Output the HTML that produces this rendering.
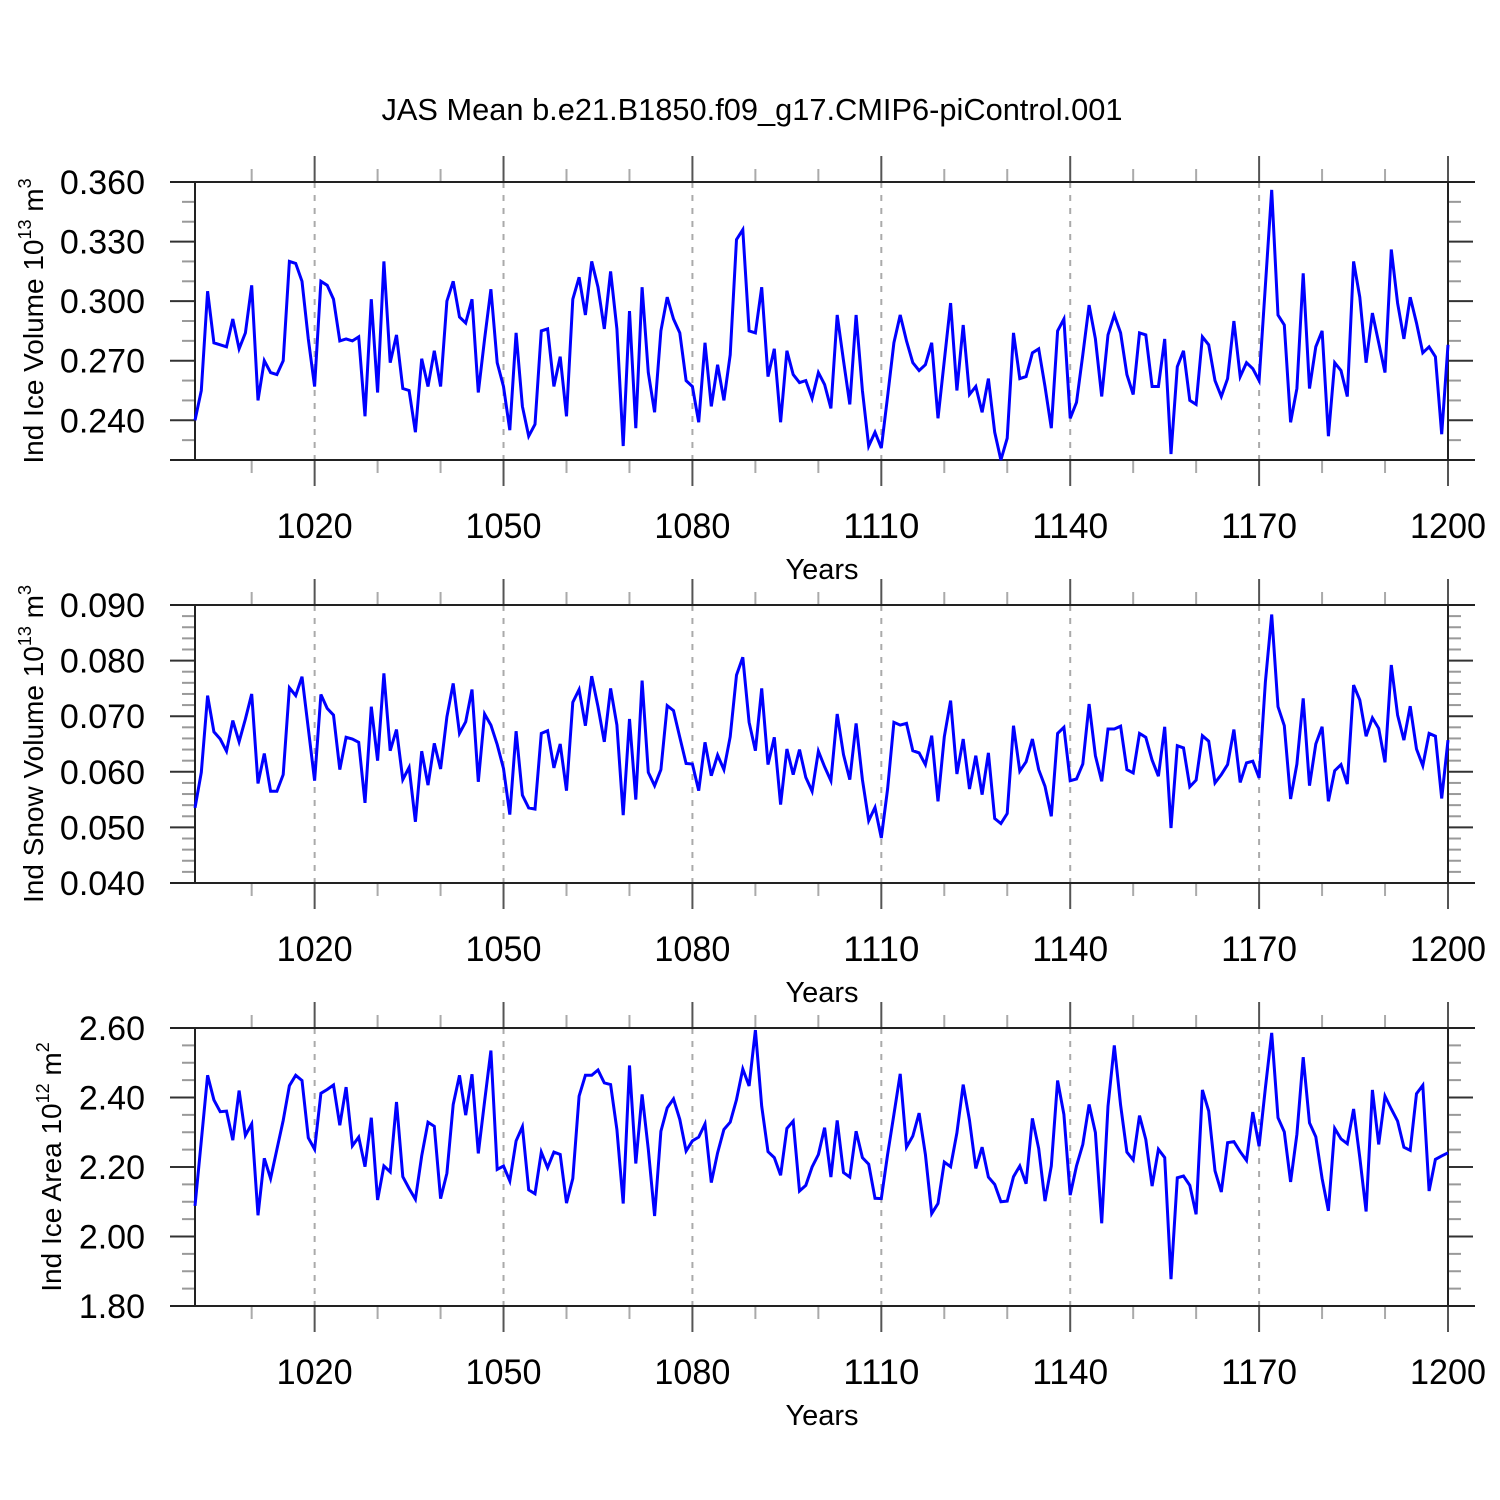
<!DOCTYPE html>
<html><head><meta charset="utf-8"><style>
html,body{margin:0;padding:0;background:#fff;}
svg{display:block;font-family:"Liberation Sans",sans-serif;}
</style></head><body>
<svg id="chart" width="1500" height="1500" viewBox="0 0 1500 1500" xmlns="http://www.w3.org/2000/svg">
<rect width="1500" height="1500" fill="#fff"/>
<text x="752" y="120" font-size="30.5" text-anchor="middle" textLength="741" lengthAdjust="spacingAndGlyphs" fill="#000">JAS Mean b.e21.B1850.f09_g17.CMIP6-piControl.001</text>
</svg>
<script>
const years = [];
for (let y = 1001; y <= 1200; y++) years.push(y);
const xTickYears = [1020, 1050, 1080, 1110, 1140, 1170, 1200];
const xTickLabels = ["1020", "1050", "1080", "1110", "1140", "1170", "1200"];

const iceVolume = [0.240,0.255,0.305,0.279,0.278,0.277,0.291,0.276,0.284,0.308,0.250,0.270,0.264,0.263,0.270,0.320,0.319,0.310,0.281,0.257,0.310,0.308,0.301,0.280,0.281,0.280,0.282,0.242,0.301,0.254,0.320,0.269,0.283,0.256,0.255,0.234,0.271,0.257,0.275,0.257,0.300,0.310,0.292,0.289,0.301,0.254,0.281,0.306,0.269,0.257,0.235,0.284,0.247,0.232,0.238,0.285,0.286,0.257,0.272,0.242,0.301,0.312,0.293,0.320,0.307,
0.286,0.315,0.286,0.227,0.295,0.236,0.307,0.264,0.244,0.285,0.302,0.291,0.284,0.260,0.257,0.239,0.279,0.247,0.268,0.250,0.273,0.331,0.336,0.285,0.284,0.307,0.262,0.276,0.239,0.275,0.263,0.259,0.260,0.251,0.264,0.258,0.246,0.293,0.270,0.248,0.293,0.255,0.227,0.234,0.226,0.252,0.279,0.293,0.280,0.269,0.265,0.268,0.279,0.241,0.270,0.299,0.255,0.288,0.253,0.257,0.244,0.261,0.234,0.220,0.231,0.284,0.261,0.262,
0.274,0.276,0.257,0.236,0.285,0.291,0.241,0.249,0.273,0.298,0.281,0.252,0.283,0.293,0.284,0.263,0.253,0.284,0.283,0.257,0.257,0.281,0.223,0.267,0.275,0.250,0.248,0.282,0.278,0.260,0.252,0.261,0.290,0.262,0.269,0.266,0.260,0.308,0.356,0.293,0.288,0.239,0.256,0.314,0.256,0.277,0.285,0.232,0.269,0.265,0.252,0.320,0.302,0.269,0.294,0.279,0.264,0.326,0.299,0.281,0.302,0.289,0.274,0.277,0.272,0.233,0.278];

const snowVolume = [0.0535,0.0599,0.0737,0.0672,0.0659,0.0637,0.0692,0.0654,0.0695,0.0740,0.0579,0.0633,0.0565,0.0565,0.0595,0.0751,0.0737,0.0771,0.0678,0.0584,0.0739,0.0714,0.0702,0.0604,0.0662,0.0659,0.0653,0.0544,0.0717,0.0620,0.0777,0.0638,0.0676,0.0586,0.0608,0.0510,0.0637,0.0576,0.0651,0.0605,0.0699,0.0759,0.0669,0.0690,0.0748,0.0582,0.0704,0.0684,0.0649,0.0606,0.0523,0.0673,0.0558,0.0535,0.0533,0.0669,0.0674,0.0607,0.0650,0.0566,0.0725,0.0748,0.0683,0.0772,0.0717,
0.0654,0.0750,0.0684,0.0522,0.0695,0.0550,0.0764,0.0599,0.0575,0.0604,0.0719,0.0710,0.0662,0.0615,0.0614,0.0566,0.0653,0.0593,0.0630,0.0604,0.0663,0.0774,0.0806,0.0689,0.0638,0.0750,0.0613,0.0662,0.0541,0.0641,0.0595,0.0640,0.0590,0.0565,0.0637,0.0609,0.0584,0.0704,0.0631,0.0586,0.0687,0.0586,0.0512,0.0536,0.0481,0.0569,0.0689,0.0684,0.0687,0.0638,0.0634,0.0613,0.0665,0.0547,0.0663,0.0728,0.0596,0.0659,0.0569,0.0629,0.0559,0.0634,0.0516,0.0507,0.0525,0.0683,0.0601,0.0618,
0.0659,0.0604,0.0574,0.0520,0.0669,0.0680,0.0584,0.0587,0.0614,0.0722,0.0629,0.0583,0.0677,0.0677,0.0682,0.0604,0.0598,0.0669,0.0662,0.0621,0.0592,0.0681,0.0499,0.0647,0.0643,0.0573,0.0585,0.0665,0.0655,0.0580,0.0595,0.0613,0.0676,0.0581,0.0616,0.0619,0.0589,0.0762,0.0883,0.0717,0.0683,0.0551,0.0614,0.0732,0.0575,0.0650,0.0681,0.0547,0.0602,0.0613,0.0578,0.0756,0.0729,0.0664,0.0697,0.0678,0.0617,0.0792,0.0702,0.0657,0.0718,0.0641,0.0611,0.0669,0.0664,0.0552,0.0657];

const iceArea = [2.088,2.275,2.464,2.393,2.359,2.361,2.277,2.420,2.291,2.324,2.061,2.225,2.167,2.251,2.334,2.434,2.464,2.449,2.284,2.251,2.412,2.423,2.436,2.320,2.430,2.261,2.286,2.201,2.342,2.105,2.203,2.186,2.387,2.172,2.138,2.107,2.232,2.329,2.317,2.109,2.182,2.380,2.464,2.349,2.467,2.239,2.389,2.535,2.193,2.203,2.160,2.275,2.316,2.134,2.123,2.243,2.198,2.243,2.236,2.096,2.167,2.404,2.464,2.464,2.479,
2.442,2.437,2.308,2.095,2.492,2.210,2.409,2.251,2.059,2.303,2.370,2.396,2.337,2.246,2.275,2.286,2.324,2.155,2.241,2.308,2.329,2.394,2.482,2.433,2.594,2.375,2.244,2.227,2.176,2.311,2.332,2.131,2.147,2.200,2.236,2.313,2.171,2.334,2.184,2.171,2.303,2.227,2.208,2.110,2.109,2.236,2.351,2.468,2.257,2.289,2.355,2.236,2.066,2.095,2.214,2.201,2.298,2.437,2.334,2.196,2.257,2.171,2.150,2.100,2.102,2.172,2.203,2.152,
2.340,2.253,2.102,2.203,2.449,2.351,2.119,2.203,2.265,2.380,2.299,2.038,2.375,2.550,2.378,2.243,2.220,2.348,2.279,2.145,2.251,2.227,1.877,2.169,2.174,2.147,2.064,2.422,2.361,2.189,2.128,2.270,2.273,2.244,2.219,2.358,2.260,2.428,2.586,2.342,2.301,2.157,2.294,2.516,2.327,2.287,2.167,2.074,2.311,2.281,2.267,2.367,2.227,2.072,2.422,2.265,2.404,2.367,2.332,2.257,2.248,2.411,2.435,2.131,2.222,2.232,2.241];

const p1Ticks = [0.240, 0.270, 0.300, 0.330, 0.360];
const p1TickLabels = ["0.240", "0.270", "0.300", "0.330", "0.360"];
const p2Ticks = [0.040, 0.050, 0.060, 0.070, 0.080, 0.090];
const p2TickLabels = ["0.040", "0.050", "0.060", "0.070", "0.080", "0.090"];
const p3Ticks = [1.80, 2.00, 2.20, 2.40, 2.60];
const p3TickLabels = ["1.80", "2.00", "2.20", "2.40", "2.60"];

const NS = "http://www.w3.org/2000/svg";
const svg = document.getElementById("chart");
const X0 = 195, X1 = 1448, YR0 = 1001, YR1 = 1200;
function xScale(yr) { return X0 + (yr - YR0) * (X1 - X0) / (YR1 - YR0); }
function mk(tag, attrs, parent) {
  const e = document.createElementNS(NS, tag);
  for (const k in attrs) e.setAttribute(k, attrs[k]);
  (parent || svg).appendChild(e);
  return e;
}

function panel(cfg) {
  const g = mk("g", {});
  
  
  const top = cfg.top, bot = cfg.top + 278;
  function yScale(v) { return bot - (v - cfg.min) * (bot - top) / (cfg.max - cfg.min); }
  xTickYears.forEach(yr => {
    if (yr >= YR1) return;
    const l = mk("line", {x1: xScale(yr), x2: xScale(yr), y1: top, y2: bot, stroke: "#aaa", "stroke-width": 2, "stroke-dasharray": "6,7"}, g);
    
    
  });
  for (let yr = 1010; yr <= 1200; yr += 10) {
    const major = (yr - 1020) % 30 === 0;
    const len = major ? 26 : 13;
    const col = major ? "#555" : "#aaa";
    const x = xScale(yr);
    const t1 = mk("line", {x1: x, x2: x, y1: top, y2: top - len, stroke: col, "stroke-width": 2}, g);
    
    
    const t2 = mk("line", {x1: x, x2: x, y1: bot, y2: bot + len, stroke: col, "stroke-width": 2}, g);
    
    
  }
  const nMinor = Math.round((cfg.max - cfg.min) / cfg.minorStep);
  for (let i = 0; i <= nMinor; i++) {
    const v = cfg.min + i * cfg.minorStep;
    const y = yScale(v);
    const isMajor = cfg.ticks.some(t => Math.abs(t - v) < cfg.minorStep / 10);
    const len = isMajor ? 25 : 13;
    const col = isMajor ? "#333" : "#999";
    const a = mk("line", {x1: X0, x2: X0 - len, y1: y, y2: y, stroke: col, "stroke-width": 2}, g);
    
    
    const b = mk("line", {x1: X1, x2: X1 + len, y1: y, y2: y, stroke: col, "stroke-width": 2}, g);
    
    
  }
  const fr = [[170, top, 1475, top], [170, bot, 1475, bot], [X0, top, X0, bot], [X1, top, X1, bot]];
  fr.forEach(f => {
    const l = mk("line", {x1: f[0], y1: f[1], x2: f[2], y2: f[3], stroke: "#222", "stroke-width": 2}, g);
    
    
  });
  cfg.ticks.forEach((t, i) => {
    const tx = mk("text", {x: 145, y: yScale(t) + 12, "font-size": 34, "text-anchor": "end", fill: "#000"}, g);
    
    
    tx.textContent = cfg.tickLabels[i];
  });
  xTickYears.forEach((yr, i) => {
    const tx = mk("text", {x: xScale(yr), y: bot + 78, "font-size": 35, "text-anchor": "middle", textLength: 76, lengthAdjust: "spacingAndGlyphs", fill: "#000"}, g);
    
    
    tx.textContent = xTickLabels[i];
  });
  const xt = mk("text", {x: 822, y: bot + 119, "font-size": 29, "text-anchor": "middle", fill: "#000"}, g);
  
  
  xt.textContent = "Years";
  const yc = (top + bot) / 2 + cfg.titleShift;
  const yt = mk("text", {x: 0, y: 0, "font-size": 28, "text-anchor": "middle", fill: "#000", transform: "translate(" + cfg.titleX + "," + yc + ") rotate(-90)"}, g);
  
  
  const s1 = mk("tspan", {}, yt); s1.textContent = cfg.title + " 10";
  const s2 = mk("tspan", {dy: -12, "font-size": 18}, yt); s2.textContent = cfg.exp;
  const s3 = mk("tspan", {dy: 12}, yt); s3.textContent = " m";
  const s4 = mk("tspan", {dy: -12, "font-size": 18}, yt); s4.textContent = cfg.unitExp;
  const pts = cfg.data.map((v, i) => xScale(years[i]).toFixed(1) + "," + yScale(v).toFixed(1)).join(" ");
  const pl = mk("polyline", {points: pts, fill: "none", stroke: "#0000ff", "stroke-width": 3, "stroke-linejoin": "miter"}, g);
  
  
}

panel({name: "ice-volume-panel", top: 182, min: 0.22, max: 0.36, minorStep: 0.01, ticks: p1Ticks, tickLabels: p1TickLabels, data: iceVolume, title: "Ind Ice Volume", exp: "13", unitExp: "3", titleX: 43, titleShift: 0});
panel({name: "snow-volume-panel", top: 605, min: 0.04, max: 0.09, minorStep: 0.002, ticks: p2Ticks, tickLabels: p2TickLabels, data: snowVolume, title: "Ind Snow Volume", exp: "13", unitExp: "3", titleX: 43, titleShift: 0});
panel({name: "ice-area-panel", top: 1028, min: 1.80, max: 2.60, minorStep: 0.05, ticks: p3Ticks, tickLabels: p3TickLabels, data: iceArea, title: "Ind Ice Area", exp: "12", unitExp: "2", titleX: 61, titleShift: 0});
</script>
</body></html>
